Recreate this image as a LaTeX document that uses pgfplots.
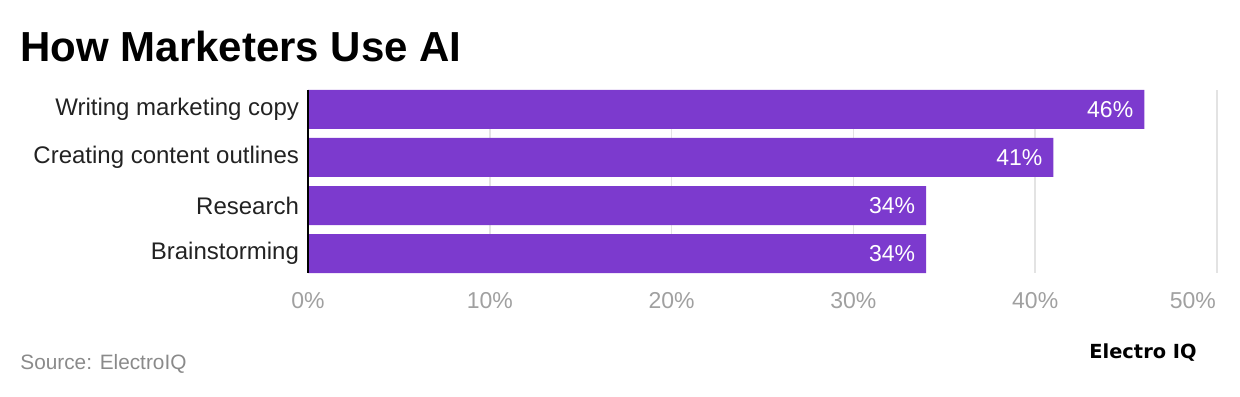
\documentclass[border=0pt]{standalone}
\usepackage{pgfplots}
\pgfplotsset{compat=1.18}
\usepackage{fontspec}
\setmainfont{Liberation Sans}
\newfontfamily\logofont{DejaVu Sans}
\definecolor{barc}{HTML}{7C3ACE}
\definecolor{gridc}{HTML}{E3E3E3}
\definecolor{tickc}{HTML}{A0A0A0}
\definecolor{srcc}{HTML}{8A8A8A}
\definecolor{labc}{HTML}{222222}
\begin{document}
\begin{tikzpicture}
\path[use as bounding box] (0,0) rectangle (620pt,198pt);
\node[anchor=base west,font=\bfseries\fontsize{21}{25}\selectfont,inner sep=0pt] at (10pt,167pt) {How Marketers Use AI};
\begin{axis}[
  at={(154pt,61.5pt)}, anchor=south west,
  scale only axis, width=454.5pt, height=91.5pt,
  xbar, bar width=19.5pt, bar shift=0pt,
  xmin=0, xmax=50, ymin=-0.406, ymax=3.406,
  y dir=reverse,
  ytick={0,1,2,3},
  yticklabels={Writing marketing copy,Creating content outlines,Research,Brainstorming},
  xtick={0,10,20,30,40},
  extra x ticks={50},
  extra x tick style={grid=major,xticklabel style={anchor=north east,xshift=3pt}},
  xticklabel={\pgfmathprintnumber{\tick}\%},
  xticklabel style={text=tickc,font=\fontsize{11.5}{13}\selectfont,yshift=-6pt},
  yticklabel style={text=labc,font=\fontsize{12}{14}\selectfont,xshift=-1pt},
  /pgf/number format/assume math mode=true,
  major tick length=0pt,
  xmajorgrids, grid style={gridc,line width=0.8pt},
  axis x line*=bottom, axis y line*=left,
  axis line style={draw=none,-},
  nodes near coords={\pgfmathprintnumber{\pgfplotspointmeta}\%},
  nodes near coords style={anchor=east,text=white,font=\fontsize{11.5}{13}\selectfont,xshift=-2pt},
  point meta=x,
  clip=false,
]
\addplot[fill=barc,draw=none] coordinates {(46,0) (41,1) (34,2) (34,3)};
\draw[black,line width=1.2pt] (axis cs:0,-0.406) -- (axis cs:0,3.406);
\end{axis}
\node[anchor=base west,text=srcc,font=\fontsize{10.4}{12}\selectfont,inner sep=0pt] at (10pt,13.5pt) {Source: ElectroIQ};
\node[anchor=base east,font=\logofont\bfseries\fontsize{9.7}{11}\selectfont,inner sep=0pt] at (598.5pt,19pt) {Electro IQ};
\end{tikzpicture}
\end{document}
